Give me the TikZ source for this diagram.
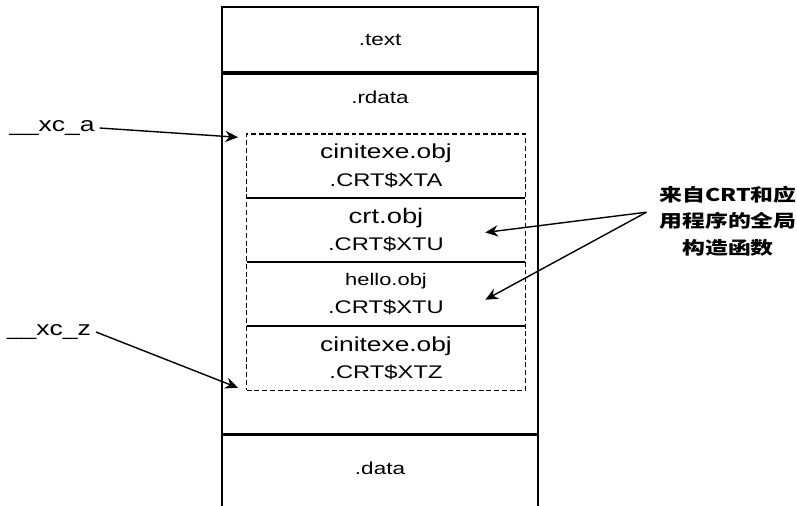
\documentclass[tikz,border=0pt]{standalone}
\usepackage{fontspec}
\setmainfont{Liberation Sans}[FakeStretch=1.3]
\newfontfamily\cjk{Noto Sans CJK SC}[FakeStretch=1.3]
\usetikzlibrary{arrows.meta,positioning,fit,calc}
\tikzset{
  seg/.style={draw, line width=1.2pt, minimum width=7.9cm, inner sep=0pt,
              font=\fontsize{12.3}{15}\selectfont},
  seglbl/.style={font=\fontsize{12.3}{15}\selectfont},
  objrow/.style={minimum width=6.95cm, minimum height=1.5875cm, inner sep=0pt,
                 align=center, font=\fontsize{13}{19.5}\selectfont},
  objbox/.style={draw, dashed, line width=1pt, dash pattern=on 3.5pt off 2pt, inner sep=0pt},
  symlbl/.style={font=\fontsize{14.5}{17}\selectfont},
  ptr/.style={line width=1pt, -{Stealth[length=9pt,width=8pt]}},
}
\newcommand{\objname}[2]{{\fontsize{#1}{19.5}\selectfont #2}}

\begin{document}
\begin{tikzpicture}[x=0.025cm, y=-0.025cm]
    \useasboundingbox (0,0) rectangle (797,506);
    \node[seg, minimum height=1.625cm] (text) at (380,39.5) {.text};
    \node[seg, minimum height=9cm, anchor=north] (rdata) at (text.south) {};
    \node[seglbl] (rdatalbl) at ([yshift=-0.6cm]rdata.north) {.rdata};
    \node[seg, minimum height=1.95cm, anchor=north] (data) at (rdata.south) {};
    \node[seglbl] (datalbl) at ([yshift=-0.85cm]data.north) {.data};

    \node[objrow] (row1) at (386,166) {\objname{14.4}{cinitexe.obj}\\.CRT\$XTA};
    \node[objrow, below=0pt of row1] (row2) {\objname{15}{crt.obj}\\.CRT\$XTU};
    \node[objrow, below=0pt of row2] (row3) {\objname{12}{hello.obj}\\.CRT\$XTU};
    \node[objrow, below=0pt of row3] (row4) {\objname{14.4}{cinitexe.obj}\\.CRT\$XTZ};
    \node[objbox, fit=(row1)(row4)] (xcbox) {};
    \draw[line width=1pt] (row1.south west) -- (row1.south east);
    \draw[line width=1pt] (row2.south west) -- (row2.south east);
    \draw[line width=1pt] (row3.south west) -- (row3.south east);

    \node[symlbl] (xca) at (52,128) {\_\_xc\_a};
    \node[symlbl] (xcz) at (49,332) {\_\_xc\_z};
    \coordinate (xcaend) at ([xshift=-0.2cm,yshift=-0.1cm]xcbox.north west);
    \coordinate (xczend) at ([xshift=-0.2cm,yshift=0.08cm]xcbox.south west);
    \draw[ptr] (xca.east) -- (xcaend);
    \draw[ptr] (xcz.east) -- (xczend);

    \node[align=center, font=\cjk\bfseries\fontsize{12.5}{19}\selectfont] (ctor) at (728,221)
      {来自CRT和应\\用程序的全局\\构造函数};
    \coordinate (ctorsrc) at ([xshift=-0.2cm,yshift=0.22cm]ctor.west);
    \coordinate (crtend) at ([xshift=-1cm,yshift=-0.06cm]row2.east);
    \coordinate (helloend) at ([xshift=-1cm,yshift=-0.14cm]row3.east);
    \draw[ptr] (ctorsrc) -- (crtend);
    \draw[ptr] (ctorsrc) -- (helloend);
\end{tikzpicture}
\end{document}
